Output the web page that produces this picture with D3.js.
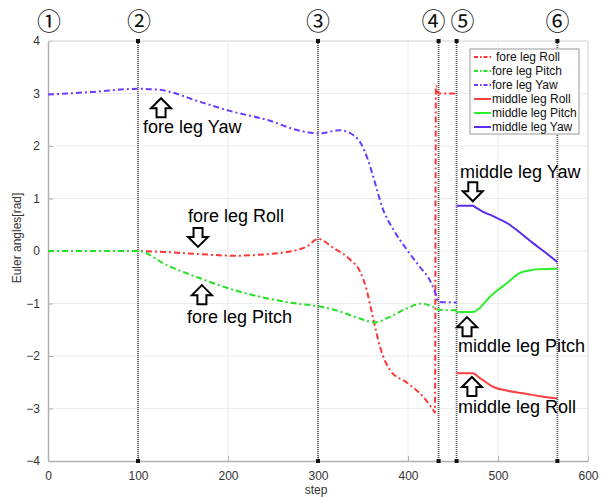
<!doctype html>
<html>
<head>
<meta charset="utf-8"/>
<title>Euler angles</title>
<script src="https://d3js.org/d3.v7.min.js"></script>
<style>
body { margin: 0; background: white; }
text { font-family: "Liberation Sans", Arial, sans-serif; }
</style>
</head>
<body>
<svg id="svg1"></svg>
<script>
// values, [step, rad]
const foreRoll = [[0, 0], [50, 0], [100, 0], [130, -0.02], [169, -0.06], [206, -0.09], [243, -0.06],
    [272, 0.0], [288, 0.09], [300, 0.23], [317, 0.06], [336, -0.17], [347, -0.4], [354, -0.74],
    [361, -1.26], [369, -1.83], [380, -2.27], [399, -2.51], [417, -2.78], [428, -3.03], [430, -3.08],
    [431, 3.15], [434, 3.0], [454, 3.0]]
const forePitch = [[0, 0], [50, 0], [100, 0], [132, -0.27], [169, -0.52], [206, -0.74], [243, -0.9],
    [280, -1.01], [300, -1.05], [324, -1.15], [347, -1.29], [363, -1.36], [378, -1.27], [399, -1.09],
    [416, -1.0], [427, -1.06], [435, -1.12], [454, -1.13]]
const foreYaw = [[0, 2.98], [50, 3.03], [100, 3.09], [124, 3.07], [169, 2.84], [206, 2.65], [243, 2.5],
    [280, 2.29], [301, 2.24], [324, 2.3], [339, 2.21], [348, 2.04], [355, 1.76], [362, 1.38], [371, 0.85],
    [384, 0.4], [399, 0.02], [413, -0.3], [424, -0.55], [430, -0.78], [434, -0.97], [454, -0.98]]
const midRoll = [[454, -2.33], [472, -2.33], [480, -2.42], [495, -2.59], [510, -2.66], [528, -2.71],
    [545, -2.76], [566, -2.81]]
const midPitch = [[454, -1.16], [472, -1.16], [480, -1.08], [491, -0.87], [500, -0.74], [510, -0.61],
    [524, -0.42], [535, -0.37], [543, -0.35], [566, -0.34]]
const midYaw = [[454, 0.86], [472, 0.86], [476, 0.82], [483, 0.75], [495, 0.66], [513, 0.5], [526, 0.33],
    [539, 0.15], [552, -0.02], [566, -0.21]]

const seriesNames = ['fore leg Roll', 'fore leg Pitch', 'fore leg Yaw', 'middle leg Roll', 'middle leg Pitch', 'middle leg Yaw']
const seriesColors = ['#ff3535', '#22e022', '#6a3cff', '#ff4040', '#2cf02c', '#5a2cf0']

const phaseSteps = [0, 100, 300, 434, 454, 566]
const phaseLabels = ['①', '②', '③', '④', '⑤', '⑥']

const xTicks = [0, 100, 200, 300, 400, 500, 600]
const yTicks = [-4, -3, -2, -1, 0, 1, 2, 3, 4]

// callouts: arrow centre step / top value, text left step / baseline value
const notes = [
    {text: 'fore leg Yaw', step: 125.6, v: 2.91, up: true, tStep: 105.6, tV: 2.25},
    {text: 'fore leg Roll', step: 166.7, v: 0.44, up: false, tStep: 155.6, tV: 0.55},
    {text: 'fore leg Pitch', step: 171, v: -0.65, up: true, tStep: 154.4, tV: -1.37},
    {text: 'middle leg Yaw', step: 472, v: 1.31, up: false, tStep: 457.8, tV: 1.39},
    {text: 'middle leg Pitch', step: 465.6, v: -1.26, up: true, tStep: 455.6, tV: -1.92},
    {text: 'middle leg Roll', step: 471, v: -2.4, up: true, tStep: 455.6, tV: -3.09}
]

const width = 607
const height = 497
const mLeft = 48, mRight = 588, mTop = 41, mBottom = 461

const svg = d3.select('#svg1')
    .attr('width', width)
    .attr('height', height)

const x = d3.scaleLinear().domain([0, 600]).range([mLeft, mRight])
const y = d3.scaleLinear().domain([-4, 4]).range([mBottom, mTop])

// grid
svg.append('g').selectAll('line').data(xTicks.slice(1)).join('line')
    .attr('x1', d => x(d)).attr('x2', d => x(d)).attr('y1', mTop).attr('y2', mBottom)
    .style('stroke', '#ececec').style('stroke-width', 1)
svg.append('g').selectAll('line').data(yTicks.slice(1)).join('line')
    .attr('x1', mLeft).attr('x2', mRight).attr('y1', d => y(d)).attr('y2', d => y(d))
    .style('stroke', '#ececec').style('stroke-width', 1)

// axes
const xAxis = svg.append('g')
    .attr('transform', `translate(0,${mBottom})`)
    .call(d3.axisBottom(x).tickValues(xTicks).tickSizeInner(-5).tickSizeOuter(0).tickPadding(10))
const yAxis = svg.append('g')
    .attr('transform', `translate(${mLeft},0)`)
    .call(d3.axisLeft(y).tickValues(yTicks).tickSizeInner(-5).tickSizeOuter(0).tickPadding(8)
        .tickFormat(d => d < 0 ? '\u2212' + Math.abs(d) : d))
for (const ax of [xAxis, yAxis]) {
    ax.select('.domain').style('stroke', '#b0b0b0').style('stroke-width', 1.5)
    ax.selectAll('.tick line').style('stroke', '#b0b0b0')
    ax.selectAll('.tick text').style('font-size', '12px').style('fill', '#333')
        .style('font-family', '"Liberation Sans", Arial, sans-serif')
}
svg.append('line').attr('x1', mLeft).attr('x2', mRight).attr('y1', mTop).attr('y2', mTop)
    .style('stroke', '#dcdcdc')
svg.append('line').attr('x1', mRight).attr('x2', mRight).attr('y1', mTop).attr('y2', mBottom)
    .style('stroke', '#dcdcdc')

svg.append('text')
    .attr('x', (mLeft + mRight) / 2 - 2).attr('y', 494)
    .attr('text-anchor', 'middle')
    .style('font-size', '12px').style('fill', '#333')
    .text('step')
svg.append('text')
    .attr('transform', 'translate(21,238) rotate(-90)')
    .attr('text-anchor', 'middle')
    .style('font-size', '12px').style('fill', '#333')
    .text('Euler angles[rad]')

// phase markers
const phases = svg.append('g')
phaseSteps.slice(1).forEach(s => {
    phases.append('line')
        .attr('x1', x(s)).attr('x2', x(s)).attr('y1', mTop).attr('y2', mBottom)
        .style('stroke', '#555').style('stroke-width', 1.8).style('stroke-dasharray', '1,1')
    for (const yy of [mTop, mBottom]) {
        phases.append('rect')
            .attr('x', x(s) - 2).attr('y', yy - 2).attr('width', 4).attr('height', 4)
            .style('fill', '#111')
    }
})
const labelShift = [1, 1, 0, -5, 6, 0]
phaseSteps.forEach((s, i) => {
    svg.append('text')
        .attr('x', x(s) + labelShift[i]).attr('y', 30)
        .attr('text-anchor', 'middle')
        .style('font-family', '"Noto Sans CJK JP", "DejaVu Sans", sans-serif')
        .style('font-size', '24px').style('fill', '#111')
        .text(phaseLabels[i])
})

// curves
const data = [foreRoll, forePitch, foreYaw, midRoll, midPitch, midYaw]
const line = d3.line().x(d => x(d[0])).y(d => y(d[1])).curve(d3.curveMonotoneX)
data.forEach((d, i) => {
    svg.append('path')
        .attr('d', line(d))
        .style('fill', 'none')
        .style('stroke', seriesColors[i])
        .style('stroke-width', 2)
        .style('stroke-dasharray', i < 3 ? '6,3,2,3' : null)
})

// callouts
function arrow(cx, ty, up) {
    let pts = [[0, 0], [10, 10], [4.5, 10], [4.5, 19], [-4.5, 19], [-4.5, 10], [-10, 10]]
    if (!up) pts = pts.map(p => [p[0], 19 - p[1]])
    svg.append('polygon')
        .attr('points', pts.map(p => `${cx + p[0]},${ty + p[1]}`).join(' '))
        .style('fill', 'white').style('stroke', 'black').style('stroke-width', 2)
        .style('stroke-linejoin', 'miter')
}
notes.forEach(n => {
    arrow(x(n.step), y(n.v), n.up)
    svg.append('text')
        .attr('x', x(n.tStep)).attr('y', y(n.tV))
        .style('font-size', '18px').style('fill', 'black')
        .text(n.text)
})

// legend
const lg = svg.append('g')
lg.append('rect')
    .attr('x', 470).attr('y', 49).attr('width', 109).attr('height', 85)
    .style('fill', 'white').style('stroke', '#999').style('stroke-width', 1)
seriesNames.forEach((name, i) => {
    const ly = 57 + i * 14
    lg.append('line')
        .attr('x1', 474).attr('x2', 491).attr('y1', ly).attr('y2', ly)
        .style('stroke', seriesColors[i]).style('stroke-width', 2)
        .style('stroke-dasharray', i < 3 ? '4,2,1.5,2' : null)
    lg.append('text')
        .attr('x', i == 0 ? 496 : 492).attr('y', ly + 4)
        .style('font-size', '12px').style('fill', '#111')
        .text(name)
})
</script>
</body>
</html>
